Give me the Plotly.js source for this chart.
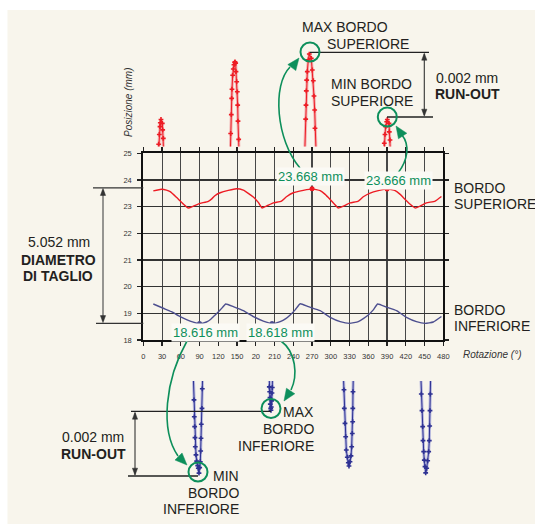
<!DOCTYPE html>
<html><head><meta charset="utf-8">
<script src="https://cdn.plot.ly/plotly-3.0.1.min.js"></script>
<style>html,body{margin:0;padding:0;background:#fff}#chart{width:535px;height:524px}</style>
</head><body><div id="chart"></div>
<script>
// ---------------- DATA ----------------
const rotationTicks = [0,30,60,90,120,150,180,210,240,270,300,330,360,390,420,450,480];
const rotationTickText = ['0','30','60','90','120','150','20','210','240','270','300','330','360','390','420','450','480'];
const positionTicks = [18,19,20,21,22,23,24,25];

// Bordo superiore (upper edge), mm vs rotation deg
const upperEdgeX = [16,29,37,43,53,64,72,80,91,104,110,115,123,136,149,160,168,176,184,190,197,208,221,229,240,256,270,283,291,299,306,312,320,331,344,352,363,376,390,403,411,419,427,435,443,453,467,477];
const upperEdgeY = [23.59,23.65,23.62,23.56,23.35,23.10,22.95,23.02,23.12,23.20,23.30,23.42,23.52,23.61,23.67,23.62,23.50,23.36,23.16,22.95,23.02,23.14,23.21,23.37,23.52,23.61,23.668,23.60,23.46,23.27,23.09,22.95,23.02,23.14,23.21,23.37,23.51,23.60,23.666,23.60,23.46,23.27,23.09,22.95,23.02,23.14,23.21,23.38];
// Bordo inferiore (lower edge)
const lowerEdgeX = [16,32,45,59,75,90,101,108,115,124,132,144,160,176,192,206,219,228,235,243,251,264,283,299,315,330,344,352,360,368,375,389,405,421,437,451,464,477];
const lowerEdgeY = [19.35,19.19,19.06,18.88,18.71,18.616,18.675,18.78,18.94,19.15,19.35,19.25,19.10,18.88,18.71,18.618,18.69,18.80,18.94,19.13,19.36,19.25,19.10,18.85,18.69,18.625,18.69,18.80,18.94,19.13,19.35,19.23,19.10,18.85,18.69,18.625,18.675,18.88];

const upperMarkX = [270,390], upperMarkY = [23.668,23.666];
const lowerMarkX = [90,206],  lowerMarkY = [18.616,18.618];

// Magnified views of the upper edge peaks (mm)
const upZoom1X = [23.5,24.6,25.6,26.7,27.2,28.3,30.4,31.0,32.0,33.1];
const upZoom1Y = [23.66469,23.66518,23.66548,23.66572,23.66584,23.66594,23.66582,23.66562,23.66536,23.66469];
const upZoom2X = [138.9,139.8,140.8,141.4,141.9,143.0,144.0,145.1,146.2,146.7,147.8,148.3,149.4,150.4,151.0,151.5,152.6,153.6];
const upZoom2Y = [23.66469,23.66551,23.66609,23.66659,23.66687,23.66730,23.66749,23.66762,23.66769,23.66771,23.66767,23.66741,23.66710,23.66679,23.66638,23.66589,23.66533,23.66469];
const upZoom3X = [257.9,259.8,260.3,260.8,261.4,262.4,264.0,265.6,268.8,270.4,272.0,273.1,274.2,274.7,276.9];
const upZoom3Y = [23.66469,23.66595,23.66638,23.66682,23.66715,23.66741,23.66777,23.66795,23.66782,23.66746,23.66713,23.66666,23.66623,23.66567,23.66469];
const upZoom4X = [385.1,385.6,386.7,387.8,389.4,390.4,393.1,393.6,394.7,396.0];
const upZoom4Y = [23.66469,23.66521,23.66548,23.66572,23.66587,23.66594,23.66582,23.66556,23.66531,23.66469];

// Magnified views of the lower edge valleys (mm)
const loZoom1X = [79.7,81.1,81.6,82.2,82.7,83.2,84.3,85.4,87.0,88.0,89.1,90.2,91.2,91.8,92.3,92.8,93.9,94.4,95.2];
const loZoom1Y = [18.61926,18.61834,18.61782,18.61752,18.61718,18.61690,18.61665,18.61646,18.61632,18.61624,18.61609,18.61626,18.61644,18.61677,18.61716,18.61759,18.61808,18.61868,18.61926];
const loZoom2X = [200.8,201.6,202.2,202.7,203.2,203.8,204.3,204.8,205.4,205.9,206.4,206.9];
const loZoom2Y = [18.61926,18.61874,18.61859,18.61841,18.61821,18.61808,18.61802,18.61812,18.61831,18.61855,18.61872,18.61926];
const loZoom3X = [319.8,321.1,321.6,322.7,323.8,324.8,326.4,328.0,329.1,330.7,332.3,333.4,334.4,335.0,335.2,335.5,336.2];
const loZoom3Y = [18.61926,18.61865,18.61808,18.61762,18.61721,18.61680,18.61658,18.61641,18.61631,18.61644,18.61662,18.61690,18.61731,18.61767,18.61808,18.61859,18.61926];
const loZoom4X = [443.7,444.8,445.9,447.0,447.5,448.6,449.6,450.7,451.8,453.4,455.0,456.6,457.6,458.2,458.7,459.2,460.0];
const loZoom4Y = [18.61926,18.61852,18.61801,18.61752,18.61709,18.61675,18.61649,18.61629,18.61610,18.61624,18.61647,18.61675,18.61709,18.61754,18.61801,18.61852,18.61926];

// ---------------- HELPERS ----------------
const W = 535, H = 524;
const fx = x => x / W, fy = y => 1 - y / H;
const P = (x, y) => fx(x).toFixed(5) + ',' + fy(y).toFixed(5);
const FONT = 'Liberation Sans, Arial, Helvetica, sans-serif';
const INK = '#231f20', GREEN = '#0d8f5b', RED = '#ed1c24', BLUE = '#2e3192';

function joinSeries(list) {
  const xs = [], ys = [];
  list.forEach((s, i) => { if (i) { xs.push(null); ys.push(null); } xs.push(...s[0]); ys.push(...s[1]); });
  return [xs, ys];
}
function seg(x0, y0, x1, y1, color, width) {
  return {type:'line', xref:'paper', yref:'paper', x0:fx(x0), y0:fy(y0), x1:fx(x1), y1:fy(y1), line:{color, width}};
}
function head(tx, ty, dx, dy, len, hw, color) {
  const n = Math.hypot(dx, dy); dx /= n; dy /= n;
  const bx = tx - dx * len, by = ty - dy * len, ox = -dy * hw, oy = dx * hw;
  return {type:'path', xref:'paper', yref:'paper', path:`M${P(tx,ty)} L${P(bx+ox,by+oy)} L${P(bx-ox,by-oy)} Z`, fillcolor:color, line:{color, width:0.5}};
}
function curve(p0, p1, p2, p3, color, width) {
  return {type:'path', xref:'paper', yref:'paper', path:`M${P(...p0)} C${P(...p1)} ${P(...p2)} ${P(...p3)}`, line:{color, width}};
}
function ring(cx, cy, r, color) {
  return {type:'circle', xref:'paper', yref:'paper', x0:fx(cx-r), x1:fx(cx+r), y0:fy(cy+r), y1:fy(cy-r), line:{color, width:2}};
}
function txt(text, x, y, xa, size, color, extra) {
  return Object.assign({text, x:fx(x), y:fy(y), xref:'paper', yref:'paper', xanchor:xa, yanchor:'middle', showarrow:false,
    font:{family:FONT, size, color}}, extra || {});
}

// ---------------- TRACES ----------------
const [upZX, upZY] = joinSeries([[upZoom1X,upZoom1Y],[upZoom2X,upZoom2Y],[upZoom3X,upZoom3Y],[upZoom4X,upZoom4Y]]);
const [loZX, loZY] = joinSeries([[loZoom1X,loZoom1Y],[loZoom2X,loZoom2Y],[loZoom3X,loZoom3Y],[loZoom4X,loZoom4Y]]);

const traces = [
  {x:upperEdgeX, y:upperEdgeY, mode:'lines', line:{color:RED, width:1.4, shape:'spline', smoothing:0.4}, xaxis:'x', yaxis:'y'},
  {x:lowerEdgeX, y:lowerEdgeY, mode:'lines', line:{color:'#4d4f8f', width:1.4, shape:'spline', smoothing:0.4}, xaxis:'x', yaxis:'y'},
  {x:upperMarkX, y:upperMarkY, mode:'markers', marker:{color:RED, size:5}, xaxis:'x', yaxis:'y'},
  {x:lowerMarkX, y:lowerMarkY, mode:'markers', marker:{color:'#4d4f8f', size:5}, xaxis:'x', yaxis:'y'},
  {x:upZX, y:upZY, mode:'lines', line:{color:'rgba(240,110,120,0.5)', width:3}, xaxis:'x2', yaxis:'y2', connectgaps:false},
  {x:upZX, y:upZY, mode:'lines+markers', line:{color:RED, width:1}, marker:{symbol:'cross', size:4, color:RED}, xaxis:'x2', yaxis:'y2', connectgaps:false},
  {x:loZX, y:loZY, mode:'lines', line:{color:'rgba(120,125,210,0.5)', width:3}, xaxis:'x3', yaxis:'y3', connectgaps:false},
  {x:loZX, y:loZY, mode:'lines+markers', line:{color:BLUE, width:1}, marker:{symbol:'cross', size:4, color:BLUE}, xaxis:'x3', yaxis:'y3', connectgaps:false}
];

// ---------------- LAYOUT ----------------
const xDom = [fx(143.3), fx(443.3)];
const hidden = {visible:false, showgrid:false, zeroline:false, fixedrange:true};

const shapes = [
  {type:'rect', xref:'paper', yref:'paper', x0:fx(7.5), x1:1, y0:0, y1:fy(10), fillcolor:'#f8f5ec', line:{width:0}, layer:'below'},
  // diameter
  seg(93, 187.8, 143.3, 187.8, '#333', 1.3),
  seg(96, 323.4, 143.3, 323.4, '#333', 1.3),
  seg(103, 190, 103, 321, '#555', 1.2),
  head(103, 188.5, 0, -1, 7, 2.6, '#333'),
  head(103, 322.6, 0, 1, 7, 2.6, '#333'),
  // upper run-out
  seg(310, 52.4, 429, 52.4, '#222', 1.3),
  seg(387, 117, 433, 117, '#222', 1.3),
  seg(424.3, 54, 424.3, 115, '#333', 1.1),
  head(424.3, 53.2, 0, -1, 7, 2.6, '#333'),
  head(424.3, 116.2, 0, 1, 7, 2.6, '#333'),
  // lower run-out
  seg(131, 411.4, 271, 411.4, '#222', 1.3),
  seg(128, 476, 198, 476, '#222', 1.3),
  seg(135, 413, 135, 474.5, '#333', 1.1),
  head(135, 412.2, 0, -1, 7, 2.6, '#333'),
  head(135, 475.2, 0, 1, 7, 2.6, '#333'),
  // green circles
  ring(310, 52, 9.5, GREEN),
  ring(387.3, 117, 9.5, GREEN),
  ring(271, 408.5, 9.5, GREEN),
  ring(198, 472, 9.5, GREEN),
  // green arrows
  curve([300,168],[276,140],[272,85],[290,67], GREEN, 1.6),
  head(299, 58, 0.6, -0.8, 12, 5, GREEN),
  curve([398,173],[408,160],[410,145],[402,135], GREEN, 1.6),
  head(396, 126, -0.55, -0.83, 12, 5, GREEN),
  curve([187,341],[165,380],[160,430],[178,456], GREEN, 1.6),
  head(187, 465, 0.7, 0.7, 12, 5, GREEN),
  curve([281,341],[296,352],[298,375],[291,390], GREEN, 1.6),
  head(284, 401, -0.55, 0.83, 12, 5, GREEN)
];

const labelBox = {bgcolor:'#fbfaf5', borderpad:1};
const annotations = [
  txt('MAX BORDO', 300, 27, 'left', 14, INK),
  txt('SUPERIORE', 325, 44, 'left', 14, INK),
  txt('MIN BORDO', 329, 84.5, 'left', 14, INK),
  txt('SUPERIORE', 329, 100.5, 'left', 14, INK),
  txt('0.002 mm', 434, 78, 'left', 14, INK),
  txt('<b>RUN-OUT</b>', 433, 94, 'left', 14, INK),
  txt('<i>Posizione (mm)</i>', 128.5, 102.5, 'center', 10, '#333', {textangle:-90}),
  txt('<i>Rotazione (°)</i>', 461, 354, 'left', 10, '#333'),
  txt('BORDO', 452, 188, 'left', 14, INK),
  txt('SUPERIORE', 452, 204, 'left', 14, INK),
  txt('BORDO', 452, 309.5, 'left', 14, INK),
  txt('INFERIORE', 452, 325.5, 'left', 14, INK),
  txt('5.052 mm', 59, 241.5, 'center', 14, INK),
  txt('<b>DIAMETRO</b>', 58.5, 259.5, 'center', 14, INK),
  txt('<b>DI TAGLIO</b>', 58, 275.5, 'center', 14, INK),
  txt('23.668 mm', 310.5, 176.5, 'center', 13, GREEN, labelBox),
  txt('23.666 mm', 398, 180.5, 'center', 13, GREEN, labelBox),
  txt('18.616 mm', 205.3, 332.5, 'center', 13, GREEN, labelBox),
  txt('18.618 mm', 280.7, 332.5, 'center', 13, GREEN, labelBox),
  txt('MAX', 316, 412, 'right', 14, INK),
  txt('BORDO', 316, 429, 'right', 14, INK),
  txt('INFERIORE', 316, 446, 'right', 14, INK),
  txt('MIN', 240.6, 476, 'right', 14, INK),
  txt('BORDO', 240.6, 492.5, 'right', 14, INK),
  txt('INFERIORE', 240.6, 509, 'right', 14, INK),
  txt('0.002 mm', 92.7, 437, 'center', 14, INK),
  txt('<b>RUN-OUT</b>', 93, 453.5, 'center', 14, INK)
];

const layout = {
  width: W, height: H,
  margin: {l:0, r:0, t:0, b:0, pad:0},
  paper_bgcolor: '#ffffff',
  plot_bgcolor: 'rgba(0,0,0,0)',
  showlegend: false,
  font: {family: FONT, color: '#333'},
  xaxis: {domain:xDom, range:[0,480], anchor:'y', tickmode:'array', tickvals:rotationTicks, ticktext:rotationTickText,
    showline:true, linecolor:'#111', linewidth:2, mirror:'ticks', ticks:'outside', ticklen:4, tickwidth:1.2, tickcolor:'#222',
    showgrid:true, gridcolor:'#474747', gridwidth:1.1, zeroline:false, tickfont:{size:7.5, color:'#333', family:FONT},
    ticklabelstandoff:4, fixedrange:true},
  yaxis: {domain:[fy(340), fy(153.3)], range:[18,25], anchor:'x', tickmode:'array', tickvals:positionTicks,
    showline:true, linecolor:'#111', linewidth:2, mirror:'ticks', ticks:'outside', ticklen:4, tickwidth:1.2, tickcolor:'#222',
    showgrid:true, gridcolor:'#333333', gridwidth:1.1, zeroline:false, tickfont:{size:7.5, color:'#333', family:FONT},
    ticklabelstandoff:4, fixedrange:true},
  xaxis2: Object.assign({domain:xDom, range:[0,480], anchor:'y2'}, hidden),
  yaxis2: Object.assign({domain:[fy(146.5), fy(49.5)], range:[23.66511, 23.66809], anchor:'x2'}, hidden),
  xaxis3: Object.assign({domain:xDom, range:[0,480], anchor:'y3'}, hidden),
  yaxis3: Object.assign({domain:[fy(480), fy(381)], range:[18.61588, 18.61892], anchor:'x3'}, hidden),
  shapes, annotations
};

Plotly.newPlot('chart', traces, layout, {staticPlot:true, displayModeBar:false});
</script></body></html>
